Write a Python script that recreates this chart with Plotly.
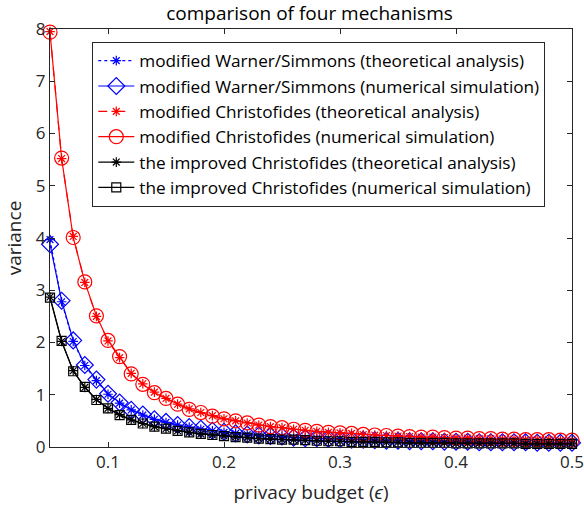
import plotly.graph_objects as go

eps = [0.05, 0.06, 0.07, 0.08, 0.09, 0.10, 0.11, 0.12, 0.13, 0.14,
       0.15, 0.16, 0.17, 0.18, 0.19, 0.20, 0.21, 0.22, 0.23, 0.24,
       0.25, 0.26, 0.27, 0.28, 0.29, 0.30, 0.31, 0.32, 0.33, 0.34,
       0.35, 0.36, 0.37, 0.38, 0.39, 0.40, 0.41, 0.42, 0.43, 0.44,
       0.45, 0.46, 0.47, 0.48, 0.49, 0.50]

ws_theory = [3.97, 2.78, 2.02, 1.56, 1.27, 1.01, 0.84, 0.71, 0.61, 0.53,
             0.47, 0.42, 0.38, 0.34, 0.31, 0.28, 0.26, 0.24, 0.22, 0.21,
             0.20, 0.18, 0.17, 0.16, 0.16, 0.15, 0.14, 0.13, 0.13, 0.12,
             0.12, 0.11, 0.11, 0.11, 0.10, 0.10, 0.10, 0.09, 0.09, 0.09,
             0.09, 0.09, 0.08, 0.08, 0.08, 0.08]
ws_sim = [3.88, 2.80, 2.04, 1.57, 1.29, 1.02, 0.85, 0.71, 0.62, 0.53,
          0.48, 0.42, 0.38, 0.35, 0.31, 0.29, 0.26, 0.24, 0.22, 0.21,
          0.20, 0.18, 0.17, 0.17, 0.16, 0.15, 0.14, 0.14, 0.13, 0.12,
          0.12, 0.11, 0.11, 0.11, 0.10, 0.10, 0.10, 0.09, 0.09, 0.09,
          0.09, 0.09, 0.08, 0.08, 0.08, 0.08]
ch_theory = [7.95, 5.52, 4.03, 3.15, 2.50, 2.03, 1.71, 1.41, 1.21, 1.05,
             0.93, 0.82, 0.73, 0.66, 0.60, 0.54, 0.50, 0.46, 0.42, 0.39,
             0.37, 0.34, 0.32, 0.30, 0.28, 0.27, 0.26, 0.24, 0.23, 0.22,
             0.21, 0.20, 0.19, 0.19, 0.18, 0.17, 0.17, 0.16, 0.16, 0.15,
             0.15, 0.14, 0.14, 0.14, 0.13, 0.13]
ch_sim = [7.94, 5.53, 4.01, 3.16, 2.51, 2.04, 1.73, 1.40, 1.20, 1.04,
          0.93, 0.82, 0.72, 0.66, 0.59, 0.54, 0.50, 0.46, 0.42, 0.39,
          0.37, 0.34, 0.32, 0.30, 0.28, 0.27, 0.26, 0.24, 0.23, 0.22,
          0.21, 0.20, 0.19, 0.19, 0.18, 0.17, 0.17, 0.16, 0.16, 0.15,
          0.15, 0.14, 0.14, 0.14, 0.13, 0.13]
ic_theory = [2.87, 2.02, 1.46, 1.14, 0.91, 0.74, 0.62, 0.52, 0.45, 0.39,
             0.35, 0.31, 0.28, 0.25, 0.23, 0.21, 0.19, 0.18, 0.16, 0.15,
             0.14, 0.14, 0.13, 0.12, 0.11, 0.11, 0.10, 0.10, 0.10, 0.09,
             0.09, 0.08, 0.08, 0.08, 0.08, 0.07, 0.07, 0.07, 0.07, 0.07,
             0.07, 0.06, 0.06, 0.06, 0.06, 0.06]
ic_sim = [2.86, 2.03, 1.45, 1.15, 0.90, 0.74, 0.61, 0.52, 0.45, 0.39,
          0.35, 0.31, 0.28, 0.25, 0.23, 0.21, 0.19, 0.18, 0.16, 0.15,
          0.14, 0.14, 0.13, 0.12, 0.11, 0.11, 0.10, 0.10, 0.10, 0.09,
          0.09, 0.08, 0.08, 0.08, 0.08, 0.07, 0.07, 0.07, 0.07, 0.07,
          0.07, 0.06, 0.06, 0.06, 0.06, 0.06]

names = [
    "modified Warner/Simmons (theoretical analysis)",
    "modified Warner/Simmons (numerical simulation)",
    "modified Christofides (theoretical analysis)",
    "modified Christofides (numerical simulation)",
    "the improved Christofides (theoretical analysis)",
    "the improved Christofides (numerical simulation)",
]
x_ticks = [0.1, 0.2, 0.3, 0.4, 0.5]
x_tick_text = ["0.1", "0.2", "0.3", "0.4", "0.5"]
y_ticks = [0, 1, 2, 3, 4, 5, 6, 7, 8]

BLUE = "#0000ff"
RED = "#ff0000"
BLACK = "#000000"

specs = [
    (ws_theory, BLUE, "dot", "asterisk-open", 8),
    (ws_sim, BLUE, "solid", "diamond-open", 13),
    (ch_theory, RED, "dash", "asterisk-open", 8),
    (ch_sim, RED, "solid", "circle-open", 14),
    (ic_theory, BLACK, "solid", "asterisk-open", 8),
    (ic_sim, BLACK, "solid", "square-open", 9),
]

fig = go.Figure()
for (vals, col, dash, sym, sz), nm in zip(specs, names):
    fig.add_trace(go.Scatter(
        x=eps, y=vals, name=nm, mode="lines+markers", cliponaxis=False,
        line=dict(color=col, width=1.2, dash=dash),
        marker=dict(symbol=sym, size=sz, color=col, line=dict(color=col, width=1.2)),
    ))

FONT = "Open Sans, Liberation Sans, Arial, sans-serif"
axis_common = dict(
    showline=True, linecolor="#262626", linewidth=1, mirror="ticks",
    ticks="inside", ticklen=5, tickcolor="#262626", showgrid=False,
    zeroline=False, tickfont=dict(family=FONT, size=17, color="#262626"),
    ticklabeloverflow="allow", automargin=False,
)
fig.update_xaxes(range=[0.05, 0.5], tickvals=x_ticks, ticktext=x_tick_text,
                 title=dict(text="privacy budget (<i>ϵ</i>)", font=dict(family=FONT, size=19, color="#262626"), standoff=13),
                 **axis_common)
fig.update_yaxes(range=[0, 8], tickvals=y_ticks,
                 title=dict(text="variance", font=dict(family=FONT, size=19, color="#262626"), standoff=9),
                 **axis_common)

fig.update_layout(
    width=584, height=510,
    margin=dict(l=50, r=12, t=29, b=63),
    paper_bgcolor="white", plot_bgcolor="white",
    title=dict(text="comparison of four mechanisms", x=0.53, xanchor="center", y=0.973, yanchor="middle",
               font=dict(family=FONT, size=19, color="#000000")),
    legend=dict(x=0.081, y=0.969, xanchor="left", yanchor="top",
                bordercolor="#262626", borderwidth=1, bgcolor="white",
                font=dict(family=FONT, size=17.2, color="#000000"),
                itemwidth=36, tracegroupgap=0),
    showlegend=True,
)

fig.write_html("out.html", config={"displayModeBar": False},
               post_script="document.body.style.margin='0px';")
